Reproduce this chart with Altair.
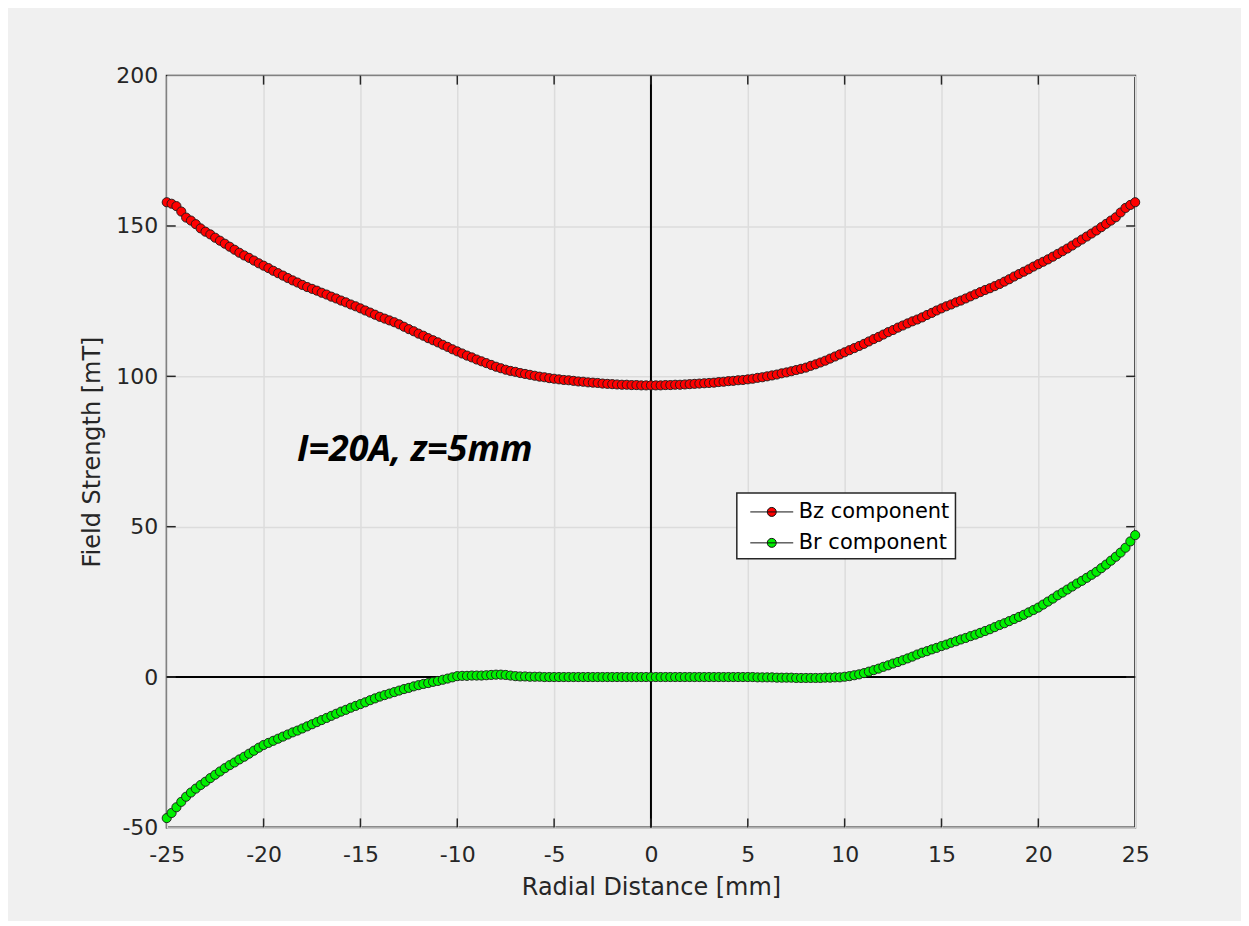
import altair as alt
import pandas as pd

# ---- data (x step 0.25 mm, -25 .. 25) ----
bz_values = [
    157.9, 157.4, 156.6, 154.8,
    152.8, 151.8, 150.6, 149.2,
    148.1, 147.2, 146.1, 145.1,
    144.1, 143.1, 142.1, 141.1,
    140.2, 139.4, 138.5, 137.6,
    136.8, 136.0, 135.1, 134.3,
    133.5, 132.7, 131.9, 131.2,
    130.4, 129.7, 129.1, 128.5,
    127.8, 127.2, 126.5, 125.9,
    125.2, 124.6, 123.9, 123.3,
    122.6, 121.9, 121.2, 120.5,
    119.8, 119.2, 118.6, 118.0,
    117.3, 116.5, 115.7, 115.0,
    114.2, 113.5, 112.7, 112.0,
    111.3, 110.5, 109.8, 109.0,
    108.3, 107.6, 106.9, 106.3,
    105.6, 105.0, 104.4, 103.8,
    103.2, 102.7, 102.2, 101.8,
    101.5, 101.1, 100.8, 100.5,
    100.2, 99.9, 99.7, 99.4,
    99.2, 99.0, 98.8, 98.7,
    98.5, 98.3, 98.2, 98.0,
    97.9, 97.8, 97.6, 97.5,
    97.4, 97.3, 97.2, 97.2,
    97.1, 97.1, 97.0, 97.0,
    97.0,
    97.0, 97.0, 97.1, 97.1,
    97.2, 97.2, 97.3, 97.4,
    97.5, 97.6, 97.7, 97.8,
    97.9, 98.1, 98.2, 98.4,
    98.5, 98.7, 98.8, 99.0,
    99.2, 99.5, 99.7, 100.0,
    100.3, 100.6, 101.0, 101.3,
    101.7, 102.1, 102.5, 102.9,
    103.5, 104.0, 104.6, 105.2,
    105.9, 106.6, 107.3, 108.0,
    108.7, 109.4, 110.1, 110.8,
    111.6, 112.4, 113.1, 113.9,
    114.7, 115.4, 116.2, 116.9,
    117.6, 118.3, 118.9, 119.6,
    120.4, 121.1, 121.9, 122.6,
    123.3, 123.9, 124.6, 125.2,
    125.9, 126.6, 127.3, 128.0,
    128.7, 129.3, 130.0, 130.7,
    131.5, 132.3, 133.2, 134.0,
    134.8, 135.6, 136.5, 137.3,
    138.1, 138.9, 139.8, 140.7,
    141.6, 142.5, 143.5, 144.5,
    145.5, 146.5, 147.5, 148.5,
    149.6, 150.7, 151.8, 152.9,
    154.5, 156.0, 157.0, 157.9,
]

br_values = [
    -46.9, -45.2, -43.3, -41.5,
    -39.8, -38.4, -37.1, -35.9,
    -34.8, -33.6, -32.5, -31.4,
    -30.3, -29.3, -28.4, -27.4,
    -26.5, -25.5, -24.5, -23.5,
    -22.6, -21.9, -21.2, -20.5,
    -19.8, -19.1, -18.4, -17.8,
    -17.1, -16.4, -15.7, -15.0,
    -14.3, -13.6, -12.9, -12.2,
    -11.5, -10.9, -10.2, -9.6,
    -9.0, -8.4, -7.7, -7.1,
    -6.5, -6.0, -5.5, -5.0,
    -4.5, -4.0, -3.6, -3.1,
    -2.7, -2.3, -2.0, -1.6,
    -1.3, -0.9, -0.5, -0.1,
    0.3, 0.4, 0.4, 0.5,
    0.5, 0.5, 0.6, 0.7,
    0.8, 0.8, 0.7, 0.5,
    0.3, 0.2, 0.2, 0.1,
    0.1, 0.1, 0.0, 0.0,
    0.0, 0.0, 0.0, 0.0,
    0.0, 0.0, 0.0, 0.0,
    0.0, 0.0, 0.0, 0.0,
    0.0, 0.0, 0.0, 0.0,
    0.0, 0.0, 0.0, 0.0,
    0.0,
    0.0, 0.0, 0.0, 0.0,
    0.0, 0.0, 0.0, 0.0,
    0.0, 0.0, 0.0, 0.0,
    0.0, 0.0, 0.0, 0.0,
    0.0, 0.0, 0.0, 0.0,
    0.0, -0.1, -0.1, -0.1,
    -0.1, -0.2, -0.2, -0.2,
    -0.2, -0.3, -0.3, -0.3,
    -0.3, -0.3, -0.3, -0.2,
    -0.2, -0.1, -0.1, 0.1,
    0.3, 0.6, 0.9, 1.3,
    1.8, 2.3, 2.8, 3.4,
    3.9, 4.5, 5.0, 5.6,
    6.2, 6.8, 7.5, 8.1,
    8.6, 9.2, 9.7, 10.3,
    10.8, 11.4, 11.9, 12.5,
    13.0, 13.6, 14.1, 14.7,
    15.3, 15.9, 16.6, 17.3,
    17.9, 18.6, 19.3, 20.0,
    20.7, 21.5, 22.3, 23.1,
    24.1, 25.1, 26.1, 27.2,
    28.1, 29.1, 30.1, 31.1,
    32.0, 33.0, 34.0, 35.0,
    36.2, 37.4, 38.7, 40.0,
    41.4, 43.0, 45.1, 47.2,
]

x_start = -25.0
x_step = 0.25
series_names = ["Bz component", "Br component"]
series_colors = ["#ff0000", "#00f000"]
x_ticks = [-25, -20, -15, -10, -5, 0, 5, 10, 15, 20, 25]
y_ticks = [-50, 0, 50, 100, 150, 200]
x_domain = [-25, 25]
y_domain = [-50, 200]
annotation = "I=20A, z=5mm"
annotation_pos = (-12.2, 75.4)

W, H = 970, 753
FONT = "DejaVu Sans"
AX = "#262626"

rows = []
for i, v in enumerate(bz_values):
    rows.append({"x": x_start + i * x_step, "v": v, "s": series_names[0], "o": i})
for i, v in enumerate(br_values):
    rows.append({"x": x_start + i * x_step, "v": v, "s": series_names[1], "o": i})
df = pd.DataFrame(rows)

xs = alt.Scale(domain=x_domain, nice=False, zero=False)
ys = alt.Scale(domain=y_domain, nice=False, zero=False)

x_axis = alt.Axis(values=x_ticks, title="Radial Distance [mm]", grid=True, ticks=False,
                  domain=False, labelFlush=False, labelOverlap=False, labelPadding=17,
                  titlePadding=10, labelExpr="datum.value + ''")
y_axis = alt.Axis(values=y_ticks, title="Field Strength [mT]", grid=True, ticks=False,
                  domain=False, labelPadding=9, titlePadding=11, labelExpr="datum.value + ''")

base = alt.Chart(df)

lines = base.mark_line(color="#333333", strokeWidth=0.8).encode(
    x=alt.X("x:Q", scale=xs, axis=x_axis),
    y=alt.Y("v:Q", scale=ys, axis=y_axis),
    detail="s:N",
    order="o:Q",
)

# legend glyph: a short line with a circle in its middle (MATLAB '-o' style)
sym_path = ("M-0.44,0L3.0,0M0.92,0A0.36,0.36,0,1,1,1.64,0"
            "A0.36,0.36,0,1,1,0.92,0Z")

points = base.mark_point(filled=True, size=84, stroke="#1a1a1a", strokeWidth=0.9,
                         opacity=1, shape="circle").encode(
    x=alt.X("x:Q", scale=xs),
    y=alt.Y("v:Q", scale=ys),
    fill=alt.Fill("s:N", scale=alt.Scale(domain=series_names, range=series_colors),
                  sort=series_names,
                  legend=alt.Legend(title=None, orient="none", legendX=571, legendY=418,
                                    fillColor="white", strokeColor=AX,
                                    padding=6, rowPadding=8, labelFontSize=21,
                                    labelFont=FONT, labelColor="black", labelOffset=30,
                                    symbolType=sym_path,
                                    symbolSize=625, symbolStrokeColor="#111111",
                                    symbolStrokeWidth=1)),
)

zero_v = alt.Chart(pd.DataFrame({"x": [0]})).mark_rule(color="black", strokeWidth=2).encode(
    x=alt.X("x:Q", scale=xs))
zero_h = alt.Chart(pd.DataFrame({"y": [0]})).mark_rule(color="black", strokeWidth=2).encode(
    y=alt.Y("y:Q", scale=ys))

xt = pd.DataFrame({"x": x_ticks[1:-1]})
yt = pd.DataFrame({"y": y_ticks[1:-1]})
tk = dict(color=AX, strokeWidth=1.5)
tick_b = alt.Chart(xt).mark_rule(**tk).encode(x=alt.X("x:Q", scale=xs), y=alt.value(H), y2=alt.value(H - 9))
tick_t = alt.Chart(xt).mark_rule(**tk).encode(x=alt.X("x:Q", scale=xs), y=alt.value(0), y2=alt.value(9))
tick_l = alt.Chart(yt).mark_rule(**tk).encode(y=alt.Y("y:Q", scale=ys), x=alt.value(0), x2=alt.value(9))
tick_r = alt.Chart(yt).mark_rule(**tk).encode(y=alt.Y("y:Q", scale=ys), x=alt.value(W), x2=alt.value(W - 9))

label = alt.Chart(pd.DataFrame({"x": [annotation_pos[0]], "y": [annotation_pos[1]], "t": [annotation]})).mark_text(
    font="Open Sans", fontSize=36, fontWeight="bold", fontStyle="italic", color="black",
    align="center", baseline="middle").encode(
    x=alt.X("x:Q", scale=xs), y=alt.Y("y:Q", scale=ys), text="t:N")

chart = alt.layer(lines, zero_v, zero_h, points, tick_b, tick_t, tick_l, tick_r, label).properties(
    width=W, height=H,
    autosize=alt.AutoSizeParams(type="none"),
    padding={"left": 159, "top": 67, "right": 106, "bottom": 93},
    background="#f0f0f0",
).configure_view(stroke=AX, strokeWidth=2).configure_axis(
    labelFont=FONT, titleFont=FONT, labelFontSize=22, titleFontSize=24,
    labelColor=AX, titleColor=AX, titleFontWeight="normal",
    gridColor="#dcdcdc", gridWidth=1.5,
).configure_legend(strokeWidth=1.5)

chart.save("out.html", embed_options={"renderer": "svg", "actions": False})
